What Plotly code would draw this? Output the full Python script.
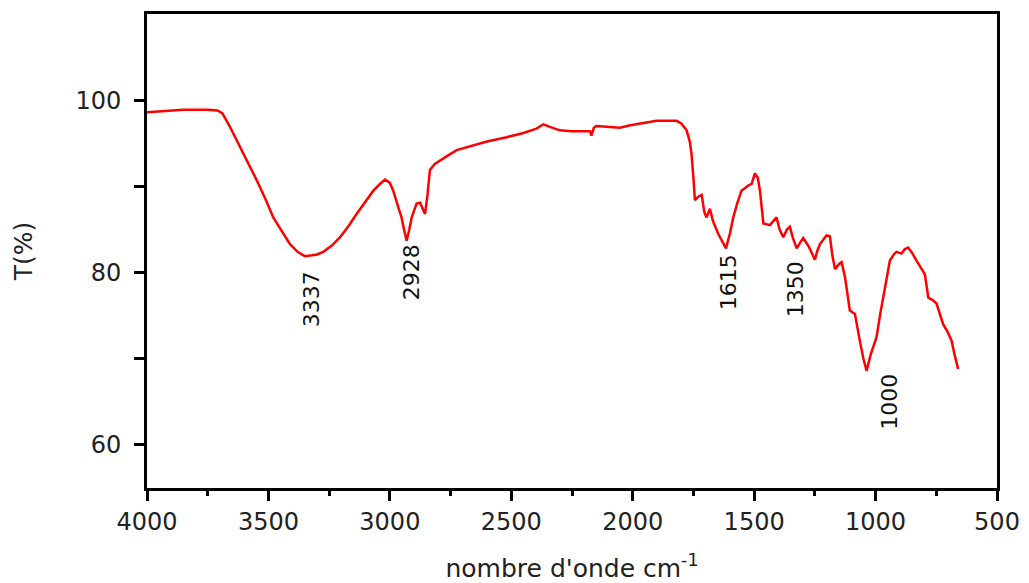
import plotly.graph_objects as go

wavenumber = [4000, 3950, 3900, 3850, 3800, 3750, 3710, 3690, 3660, 3617, 3580, 3548, 3510, 3480,
              3445, 3411, 3380, 3350, 3320, 3300, 3274, 3240, 3205, 3170, 3137, 3100, 3068, 3040,
              3020, 3000, 2986, 2970, 2952, 2940, 2931, 2920, 2910, 2890, 2875, 2862, 2855, 2845,
              2835, 2815, 2794, 2760, 2725, 2690, 2657, 2600, 2519, 2450, 2396, 2368, 2341, 2300,
              2250, 2176, 2170, 2160, 2150, 2100, 2053, 2010, 1970, 1902, 1860, 1820, 1800, 1778,
              1765, 1758, 1750, 1744, 1730, 1716, 1705, 1696, 1682, 1670, 1648, 1630, 1616, 1600,
              1586, 1570, 1552, 1524, 1510, 1497, 1485, 1476, 1462, 1435, 1420, 1408, 1395, 1380,
              1365, 1353, 1340, 1325, 1310, 1298, 1275, 1250, 1240, 1229, 1202, 1188, 1178, 1167,
              1150, 1140, 1126, 1115, 1106, 1085, 1075, 1065, 1050, 1037, 1020, 996, 982, 969,
              955, 941, 925, 914, 893, 880, 866, 850, 832, 815, 797, 783, 765, 749, 735, 722,
              705, 687, 675, 660]
transmittance = [98.6, 98.7, 98.8, 98.9, 98.9, 98.9, 98.8, 98.5, 97.0, 94.6, 92.6, 90.7, 88.4, 86.4,
                 84.8, 83.3, 82.4, 81.9, 82.0, 82.1, 82.4, 83.1, 84.1, 85.4, 86.8, 88.2, 89.5, 90.3,
                 90.8, 90.4, 89.5, 88.0, 86.4, 84.8, 83.7, 85.0, 86.4, 88.0, 88.1, 87.2, 86.8, 89.0,
                 91.9, 92.6, 93.0, 93.6, 94.2, 94.5, 94.8, 95.2, 95.7, 96.2, 96.7, 97.2, 96.9, 96.5,
                 96.4, 96.4, 95.9, 96.8, 97.0, 96.9, 96.8, 97.1, 97.3, 97.6, 97.6, 97.6, 97.3, 96.5,
                 95.2, 93.8, 91.0, 88.4, 88.8, 89.0, 87.0, 86.4, 87.4, 86.0, 84.5, 83.5, 82.8, 84.5,
                 86.4, 88.0, 89.5, 90.1, 90.3, 91.5, 91.0, 89.5, 85.7, 85.5, 86.0, 86.4, 85.0, 84.1,
                 85.0, 85.3, 84.0, 82.8, 83.5, 84.0, 83.0, 81.5, 82.5, 83.3, 84.3, 84.2, 82.0, 80.4,
                 81.0, 81.2, 79.5, 77.5, 75.6, 75.2, 73.5, 72.1, 70.0, 68.6, 70.5, 72.5, 75.0, 77.1,
                 79.5, 81.4, 82.1, 82.4, 82.2, 82.7, 82.9, 82.3, 81.4, 80.6, 79.8, 77.1, 76.8, 76.4,
                 75.2, 74.0, 73.2, 72.1, 70.5, 68.8]

peak_labels = ["3337", "2928", "1615", "1350", "1000"]
peak_label_x = [3325, 2910, 1607, 1330, 941]
peak_label_y = [76.9, 80.0, 78.9, 78.1, 65.0]

x_ticks = [4000, 3500, 3000, 2500, 2000, 1500, 1000, 500]
y_ticks = [60, 80, 100]

FONT = "DejaVu Sans, Arial, sans-serif"

fig = go.Figure()
fig.add_trace(go.Scatter(x=wavenumber, y=transmittance, mode="lines",
                         line=dict(color="#ff0000", width=2.5), showlegend=False))

for t, xx, yy in zip(peak_labels, peak_label_x, peak_label_y):
    fig.add_annotation(x=xx, y=yy, text=t, showarrow=False, textangle=-90,
                       font=dict(family=FONT, size=22, color="#111111"))

fig.update_layout(
    width=1029, height=583,
    margin=dict(l=147, r=32, t=14, b=95),
    paper_bgcolor="white", plot_bgcolor="white",
    font=dict(family=FONT, color="#222222"),
)
fig.update_xaxes(
    range=[4000, 500], tickvals=x_ticks, ticktext=[str(v) for v in x_ticks],
    showline=True, linecolor="black", linewidth=3, mirror=True, automargin=False,
    ticks="outside", ticklen=10, tickwidth=3, tickcolor="black",
    minor=dict(tickvals=[3750, 3250, 2750, 2250, 1750, 1250, 750], ticks="outside",
               ticklen=5, tickwidth=3, tickcolor="black"),
    showgrid=False, zeroline=False,
    tickfont=dict(family=FONT, size=24, color="#222222"),
    title=dict(text="nombre d'onde cm<sup>-1</sup>", standoff=30,
               font=dict(family=FONT, size=25, color="#222222")),
)
fig.update_yaxes(
    range=[55, 110], tickvals=y_ticks, ticktext=[str(v) for v in y_ticks],
    showline=True, linecolor="black", linewidth=3, mirror=True, automargin=False,
    ticks="outside", ticklen=10, tickwidth=3, tickcolor="black",
    minor=dict(tickvals=[70, 90], ticks="outside", ticklen=10, tickwidth=3, tickcolor="black"),
    showgrid=False, zeroline=False, ticklabelstandoff=8,
    tickfont=dict(family=FONT, size=24, color="#222222"),
    title=dict(text="T(%)", standoff=36, font=dict(family=FONT, size=25, color="#222222")),
)

fig.write_html("out.html")
